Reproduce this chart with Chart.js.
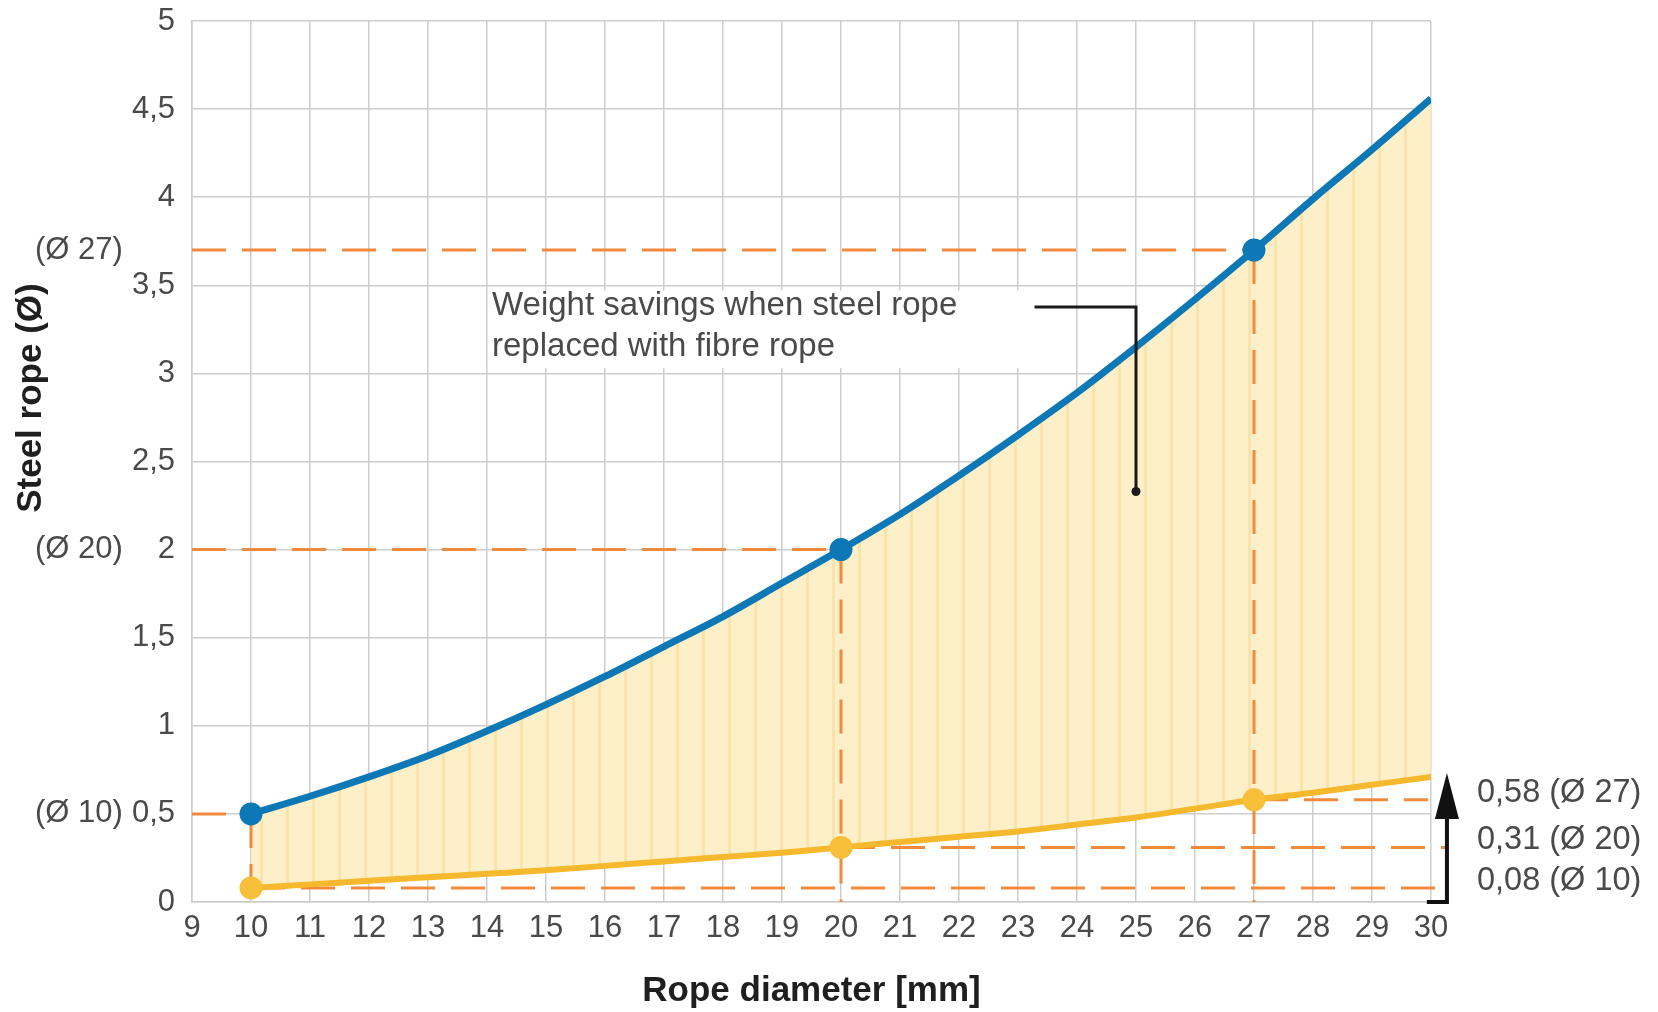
<!DOCTYPE html>
<html lang="en">
<head>
<meta charset="UTF-8">
<title>Steel rope vs fibre rope weight</title>
<style>
  html, body { margin: 0; padding: 0; background: #fff; }
  canvas { display: block; }
</style>
<script src="https://cdn.jsdelivr.net/npm/chart.js"></script>
</head>
<body>
<canvas id="chart" width="1658" height="1012"></canvas>
<script>
// values
const diameters   = [10, 11, 12, 13, 14, 15, 16, 17, 18, 19, 20, 21, 22, 23, 24, 25, 26, 27, 28, 29, 30];
const steelWeight = [0.5, 0.6, 0.71, 0.83, 0.97, 1.12, 1.28, 1.45, 1.62, 1.81, 2.0, 2.2, 2.42, 2.65, 2.89, 3.15, 3.42, 3.7, 3.99, 4.27, 4.56];
const fibreWeight = [0.08, 0.10, 0.12, 0.14, 0.16, 0.18, 0.205, 0.23, 0.255, 0.28, 0.31, 0.34, 0.37, 0.40, 0.44, 0.48, 0.53, 0.58, 0.62, 0.665, 0.71];

const markedDiameters = [10, 20, 27];
const steelMarked = [0.5, 2.0, 3.7];
const fibreMarked = [0.08, 0.31, 0.58];
const steelLabels = ['(Ø 10)', '(Ø 20)', '(Ø 27)'];
const fibreLabels = ['0,08 (Ø 10)', '0,31 (Ø 20)', '0,58 (Ø 27)'];

const xMin = 9, xMax = 30;
const yMin = 0, yMax = 5, yStep = 0.5;

const noteLines = ['Weight savings when steel rope', 'replaced with fibre rope'];

const FONT = '"Liberation Sans", Arial, Helvetica, sans-serif';
const BLUE = '#0d78b6';
const YELLOW = '#f6b82c';
const ORANGE = '#f08a3c';
const GRID = '#cdcdcd';
const TEXT = '#4a4a4a';

const canvas = document.getElementById('chart');
const ctx = canvas.getContext('2d');

// striped cream fill
function stripePattern() {
    const c = document.createElement('canvas');
    c.width = 26; c.height = 8;
    const g = c.getContext('2d');
    g.fillStyle = '#fdefc8';
    g.fillRect(0, 0, 26, 8);
    g.fillStyle = '#fae4ae';
    g.fillRect(0, 0, 3, 8);
    return ctx.createPattern(c, 'repeat');
}

const steelPoints = diameters.map((d, i) => ({ x: d, y: steelWeight[i] }));
const fibrePoints = diameters.map((d, i) => ({ x: d, y: fibreWeight[i] }));

function markRadius(c) {
    return c.raw && markedDiameters.includes(c.raw.x) ? 11.5 : 0;
}

// dashed guide lines
const guides = [];
markedDiameters.forEach((d, i) => {
    guides.push([{ x: xMin, y: steelMarked[i] }, { x: d, y: steelMarked[i] }]);
    guides.push([{ x: d, y: steelMarked[i] }, { x: d, y: 0 }]);
    const end = i === 2 ? 29.95 : 30.27;
    guides.push([{ x: d, y: fibreMarked[i] }, { x: end, y: fibreMarked[i] }]);
});

const guideSets = guides.map(pts => ({
    data: pts,
    borderColor: ORANGE,
    borderWidth: 3,
    borderDash: [34, 16],
    pointRadius: 0,
    fill: false,
    clip: false,
    order: 5
}));

const extras = {
    id: 'extras',
    beforeDatasetsDraw(chart) {
        const xs = chart.scales.x, ys = chart.scales.y;
        const c = chart.ctx;
        // white box behind the note
        c.save();
        c.fillStyle = '#fff';
        const l = 490, r = xs.getPixelForValue(23.25);
        const t = ys.getPixelForValue(3.47), b = ys.getPixelForValue(3.03);
        c.fillRect(l, t, r - l, b - t);
        c.restore();
    },
    afterDraw(chart) {
        const xs = chart.scales.x, ys = chart.scales.y;
        const c = chart.ctx;
        c.save();

        // note text
        c.fillStyle = TEXT;
        c.font = '33px ' + FONT;
        c.textBaseline = 'middle';
        c.textAlign = 'left';
        c.fillText(noteLines[0], 492, 306);
        c.fillText(noteLines[1], 492, 347);

        // leader
        c.strokeStyle = '#1a1a1a';
        c.lineWidth = 3;
        const lx = xs.getPixelForValue(25);
        const ly = 307;
        c.beginPath();
        c.moveTo(xs.getPixelForValue(23.28), ly);
        c.lineTo(lx, ly);
        c.lineTo(lx, ys.getPixelForValue(2.33));
        c.stroke();
        c.fillStyle = '#1a1a1a';
        c.beginPath();
        c.arc(lx, ys.getPixelForValue(2.33), 4.5, 0, Math.PI * 2);
        c.fill();

        // left (Ø) labels
        c.fillStyle = TEXT;
        c.font = '31px ' + FONT;
        c.textAlign = 'left';
        steelMarked.forEach((v, i) => {
            c.fillText(steelLabels[i], 35, ys.getPixelForValue(v));
        });

        // right fibre labels
        c.font = '32.5px ' + FONT;
        fibreMarked.forEach((v, i) => {
            c.fillText(fibreLabels[i], 1477, ys.getPixelForValue(v) - 7);
        });

        // arrow
        const ax = xs.getPixelForValue(30.27);
        const y0 = ys.getPixelForValue(0);
        const yTop = ys.getPixelForValue(fibreWeight[fibreWeight.length - 1]) - 4;
        c.strokeStyle = '#111';
        c.fillStyle = '#111';
        c.lineWidth = 4;
        c.beginPath();
        c.moveTo(xs.getPixelForValue(29.93), y0);
        c.lineTo(ax, y0);
        c.lineTo(ax, yTop + 40);
        c.stroke();
        c.beginPath();
        c.moveTo(ax, yTop);
        c.lineTo(ax - 12, yTop + 46);
        c.lineTo(ax + 12, yTop + 46);
        c.closePath();
        c.fill();

        // y title
        c.fillStyle = '#1f1f1f';
        c.font = 'bold 35px ' + FONT;
        c.textAlign = 'center';
        c.translate(31, ys.getPixelForValue(2.86));
        c.rotate(-Math.PI / 2);
        c.fillText('Steel rope (Ø)', 0, 0);
        c.restore();
    }
};

new Chart(ctx, {
    type: 'line',
    data: {
        datasets: [
            {
                data: steelPoints,
                borderColor: BLUE,
                backgroundColor: stripePattern(),
                borderWidth: 7,
                borderCapStyle: 'butt',
                cubicInterpolationMode: 'monotone',
                pointRadius: markRadius,
                pointBackgroundColor: BLUE,
                pointBorderWidth: 0,
                fill: 1,
                order: 1
            },
            {
                data: fibrePoints,
                borderColor: YELLOW,
                borderWidth: 6,
                borderCapStyle: 'butt',
                cubicInterpolationMode: 'monotone',
                pointRadius: markRadius,
                pointBackgroundColor: '#f7bf3a',
                pointBorderWidth: 0,
                fill: false,
                order: 2
            },
            ...guideSets
        ]
    },
    options: {
        responsive: false,
        animation: false,
        events: [],
        layout: { padding: { top: 21, right: 227, bottom: 0, left: 0 } },
        plugins: {
            legend: { display: false },
            tooltip: { enabled: false },
            filler: { drawTime: 'beforeDatasetsDraw' }
        },
        scales: {
            x: {
                type: 'linear',
                min: xMin,
                max: xMax,
                afterFit(s) { s.height = 110; },
                grid: { color: GRID, lineWidth: 1.5, drawTicks: false },
                border: { color: GRID, width: 1.5 },
                ticks: {
                    stepSize: 1,
                    autoSkip: false,
                    maxRotation: 0,
                    padding: 8,
                    color: TEXT,
                    font: { family: FONT, size: 31 }
                },
                title: {
                    display: true,
                    text: 'Rope diameter [mm]',
                    color: '#1f1f1f',
                    font: { family: FONT, size: 35, weight: 'bold' },
                    padding: 0
                }
            },
            y: {
                min: yMin,
                max: yMax,
                afterFit(s) {
                    s.width = 192;
                    s.paddingTop = 0;
                },
                grid: { color: GRID, lineWidth: 1.5, drawTicks: false },
                border: { color: GRID, width: 1.5 },
                ticks: {
                    stepSize: yStep,
                    padding: 17,
                    color: TEXT,
                    font: { family: FONT, size: 31, lineHeight: 0.6 },
                    callback: v => String(v).replace('.', ',')
                }
            }
        }
    },
    plugins: [extras]
});
</script>
</body>
</html>
